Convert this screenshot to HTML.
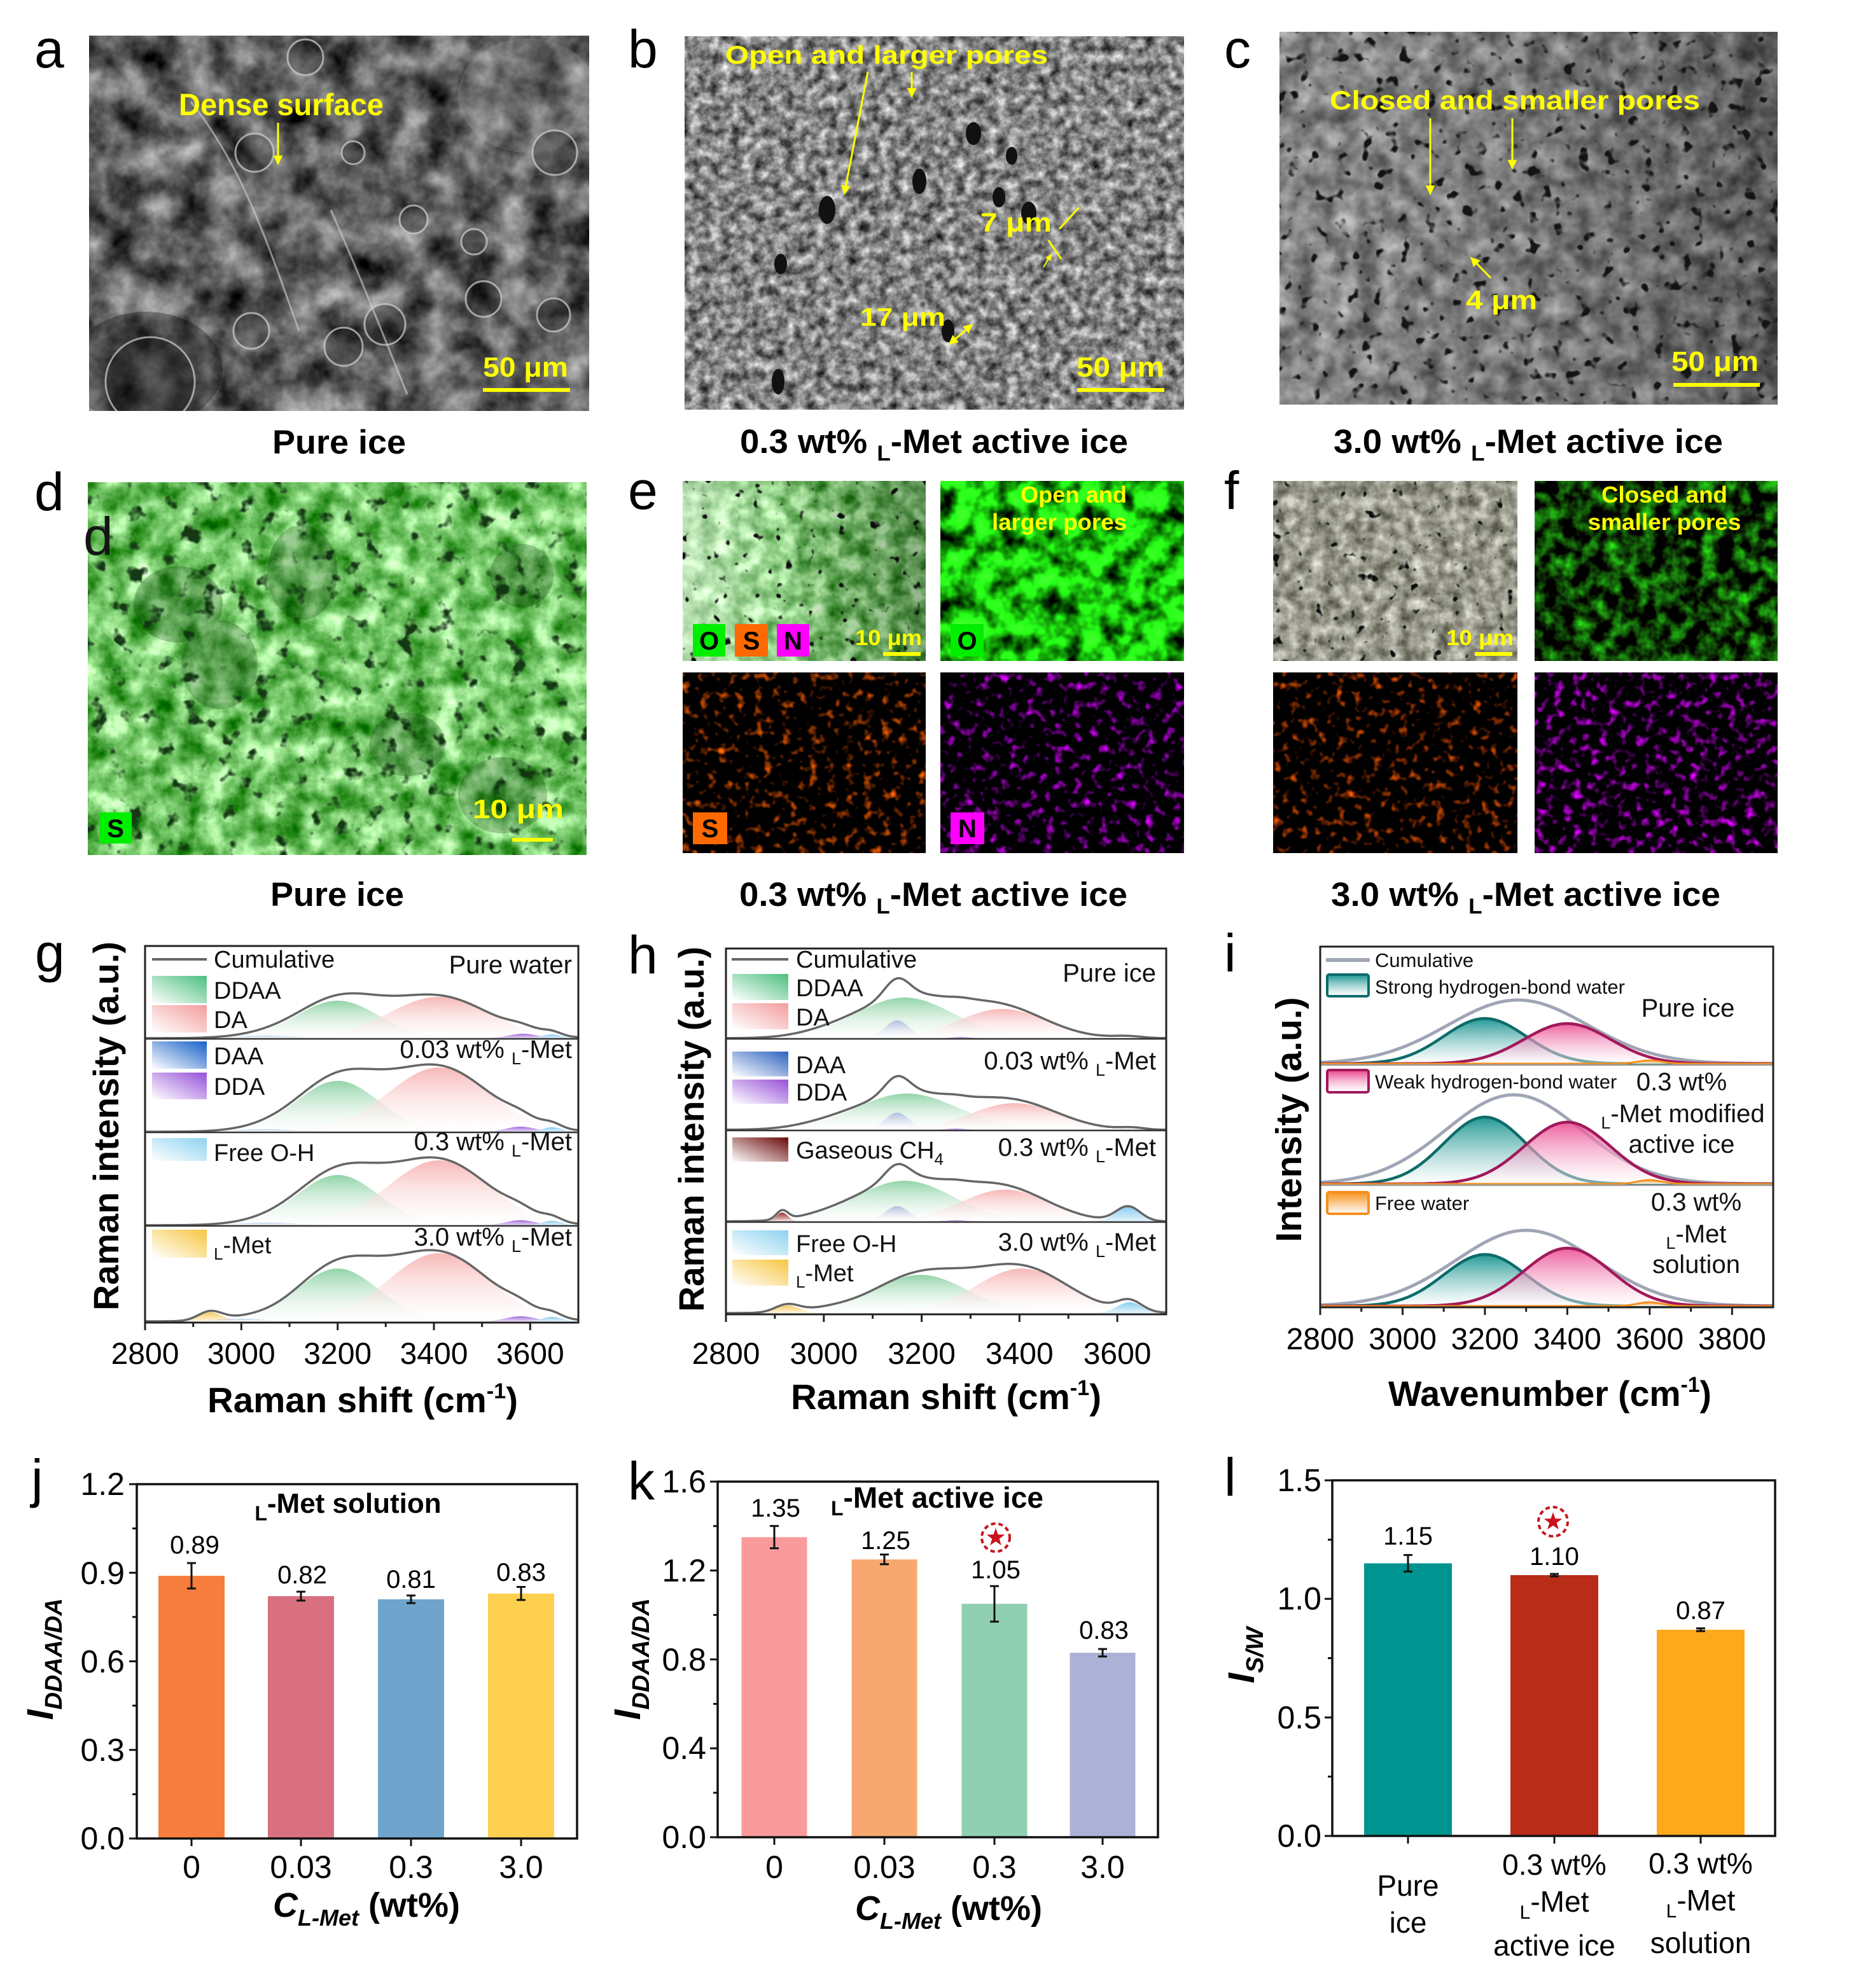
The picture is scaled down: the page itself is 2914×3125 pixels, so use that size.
<!DOCTYPE html>
<html><head><meta charset="utf-8">
<style>html,body{margin:0;padding:0;background:#fff;width:2914px;height:3125px;overflow:hidden}svg{display:block}</style>
</head>
<body>
<svg xmlns="http://www.w3.org/2000/svg" width="2914" height="3125" viewBox="0 0 2914 3125" font-family="'Liberation Sans', Arial, sans-serif">
<defs>
  <clipPath id="clipA"><rect x="140" y="56" width="786" height="590"/></clipPath>
  <clipPath id="clipD"><rect x="138" y="758" width="784" height="586"/></clipPath>
  <filter id="fA" x="0" y="0" width="1" height="1" color-interpolation-filters="sRGB">
    <feTurbulence type="fractalNoise" baseFrequency="0.018" numOctaves="4" seed="5"/>
    <feColorMatrix type="matrix" values="1.0 0 0 0 -0.12  1.0 0 0 0 -0.12  1.0 0 0 0 -0.12  0 0 0 0 1"/>
  </filter>
  <filter id="fB" x="0" y="0" width="1" height="1" color-interpolation-filters="sRGB">
    <feTurbulence type="fractalNoise" baseFrequency="0.06" numOctaves="3" seed="8"/>
    <feColorMatrix type="matrix" values="1.1 0 0 0 -0.03  1.1 0 0 0 -0.03  1.1 0 0 0 -0.03  0 0 0 0 1"/>
  </filter>
  <filter id="fC" x="0" y="0" width="1" height="1" color-interpolation-filters="sRGB">
    <feTurbulence type="fractalNoise" baseFrequency="0.03" numOctaves="3" seed="11"/>
    <feColorMatrix type="matrix" values="0.7 0 0 0 0.12  0.7 0 0 0 0.12  0.7 0 0 0 0.12  0 0 0 0 1"/>
  </filter>
  <filter id="fSp1" x="0" y="0" width="1" height="1" color-interpolation-filters="sRGB">
    <feTurbulence type="fractalNoise" baseFrequency="0.05" numOctaves="2" seed="13"/>
    <feColorMatrix type="matrix" values="0 0 0 0 0.08  0 0 0 0 0.08  0 0 0 0 0.08  9 0 0 0 -5.7"/>
  </filter>
  <filter id="fSp2" x="0" y="0" width="1" height="1" color-interpolation-filters="sRGB">
    <feTurbulence type="fractalNoise" baseFrequency="0.06" numOctaves="2" seed="61"/>
    <feColorMatrix type="matrix" values="0 0 0 0 0.05  0 0 0 0 0.05  0 0 0 0 0.05  10 0 0 0 -6.9"/>
  </filter>
  <filter id="fD" x="0" y="0" width="1" height="1" color-interpolation-filters="sRGB">
    <feTurbulence type="fractalNoise" baseFrequency="0.025" numOctaves="4" seed="17"/>
    <feColorMatrix type="matrix" values="1.3 0 0 0 -0.2  1.0 0 0 0 0.27  1.3 0 0 0 -0.25  0 0 0 0 1"/>
  </filter>
  <filter id="fSpD" x="0" y="0" width="1" height="1" color-interpolation-filters="sRGB">
    <feTurbulence type="fractalNoise" baseFrequency="0.035" numOctaves="3" seed="19"/>
    <feColorMatrix type="matrix" values="0 0 0 0 0.08  0 0 0 0 0.22  0 0 0 0 0.08  7 0 0 0 -4.3"/>
  </filter>
  <filter id="fETL" x="0" y="0" width="1" height="1" color-interpolation-filters="sRGB">
    <feTurbulence type="fractalNoise" baseFrequency="0.04" numOctaves="3" seed="23"/>
    <feColorMatrix type="matrix" values="1.1 0 0 0 -0.05  0.9 0 0 0 0.35  1.1 0 0 0 -0.1  0 0 0 0 1"/>
  </filter>
  <filter id="fETR" x="0" y="0" width="1" height="1" color-interpolation-filters="sRGB">
    <feTurbulence type="fractalNoise" baseFrequency="0.03" numOctaves="3" seed="29"/>
    <feColorMatrix type="matrix" values="0.5 0 0 0 -0.15  2.6 0 0 0 -0.55  0.4 0 0 0 -0.15  0 0 0 0 1"/>
  </filter>
  <filter id="fEBL" x="0" y="0" width="1" height="1" color-interpolation-filters="sRGB">
    <feTurbulence type="fractalNoise" baseFrequency="0.07" numOctaves="2" seed="31"/>
    <feColorMatrix type="matrix" values="3.0 0 0 0 -1.62  1.2 0 0 0 -0.66  0 0 0 0 0  0 0 0 0 1"/>
  </filter>
  <filter id="fEBR" x="0" y="0" width="1" height="1" color-interpolation-filters="sRGB">
    <feTurbulence type="fractalNoise" baseFrequency="0.07" numOctaves="2" seed="37"/>
    <feColorMatrix type="matrix" values="2.6 0 0 0 -1.4  0 0 0 0 0  3.0 0 0 0 -1.6  0 0 0 0 1"/>
  </filter>
  <filter id="fFTL" x="0" y="0" width="1" height="1" color-interpolation-filters="sRGB">
    <feTurbulence type="fractalNoise" baseFrequency="0.05" numOctaves="3" seed="41"/>
    <feColorMatrix type="matrix" values="0.8 0 0 0 0.2  0.8 0 0 0 0.2  0.8 0 0 0 0.15  0 0 0 0 1"/>
  </filter>
  <filter id="fFTR" x="0" y="0" width="1" height="1" color-interpolation-filters="sRGB">
    <feTurbulence type="fractalNoise" baseFrequency="0.04" numOctaves="3" seed="43"/>
    <feColorMatrix type="matrix" values="0.3 0 0 0 -0.1  1.8 0 0 0 -0.68  0.2 0 0 0 -0.08  0 0 0 0 1"/>
  </filter>
  <filter id="fFBL" x="0" y="0" width="1" height="1" color-interpolation-filters="sRGB">
    <feTurbulence type="fractalNoise" baseFrequency="0.07" numOctaves="2" seed="47"/>
    <feColorMatrix type="matrix" values="2.9 0 0 0 -1.6  1.1 0 0 0 -0.62  0 0 0 0 0  0 0 0 0 1"/>
  </filter>
  <filter id="fFBR" x="0" y="0" width="1" height="1" color-interpolation-filters="sRGB">
    <feTurbulence type="fractalNoise" baseFrequency="0.07" numOctaves="2" seed="53"/>
    <feColorMatrix type="matrix" values="2.7 0 0 0 -1.4  0 0 0 0 0  3.1 0 0 0 -1.6  0 0 0 0 1"/>
  </filter>

  <linearGradient id="oETL" x1="0" y1="0" x2="1" y2="0">
    <stop offset="0" stop-color="#fff" stop-opacity="0.5"/>
    <stop offset="0.4" stop-color="#fff" stop-opacity="0.2"/>
    <stop offset="0.6" stop-color="#000" stop-opacity="0.15"/>
    <stop offset="1" stop-color="#000" stop-opacity="0.3"/>
  </linearGradient>
  <linearGradient id="oC" x1="0" y1="0" x2="1" y2="0">
    <stop offset="0" stop-color="#fff" stop-opacity="0.1"/>
    <stop offset="1" stop-color="#000" stop-opacity="0.25"/>
  </linearGradient>

  <linearGradient id="fGr" x1="0" y1="0" x2="0" y2="1"><stop offset="0" stop-color="#86cf9f"/><stop offset="1" stop-color="#ffffff" stop-opacity="0.3"/></linearGradient>
  <linearGradient id="fRd" x1="0" y1="0" x2="0" y2="1"><stop offset="0" stop-color="#f6b0b0"/><stop offset="1" stop-color="#ffffff" stop-opacity="0.3"/></linearGradient>
  <linearGradient id="fBl" x1="0" y1="0" x2="0" y2="1"><stop offset="0" stop-color="#7fa3dc"/><stop offset="1" stop-color="#ffffff" stop-opacity="0.3"/></linearGradient>
  <linearGradient id="fBl2" x1="0" y1="0" x2="0" y2="1"><stop offset="0" stop-color="#a9b7e0"/><stop offset="1" stop-color="#ffffff" stop-opacity="0.3"/></linearGradient>
  <linearGradient id="fPu" x1="0" y1="0" x2="0" y2="1"><stop offset="0" stop-color="#9a5cd8"/><stop offset="1" stop-color="#e6d6f6"/></linearGradient>
  <linearGradient id="fCy" x1="0" y1="0" x2="0" y2="1"><stop offset="0" stop-color="#7cc8ee"/><stop offset="1" stop-color="#e2f3fb"/></linearGradient>
  <linearGradient id="fYe" x1="0" y1="0" x2="0" y2="1"><stop offset="0" stop-color="#f5c45a"/><stop offset="1" stop-color="#fff4d8"/></linearGradient>
  <linearGradient id="fMr" x1="0" y1="0" x2="0" y2="1"><stop offset="0" stop-color="#8a1f1f"/><stop offset="1" stop-color="#f0d6d6"/></linearGradient>
  <linearGradient id="iT" x1="0" y1="0" x2="0" y2="1"><stop offset="0" stop-color="#16938f"/><stop offset="1" stop-color="#ffffff" stop-opacity="0.6"/></linearGradient>
  <linearGradient id="iP" x1="0" y1="0" x2="0" y2="1"><stop offset="0" stop-color="#e9428a"/><stop offset="1" stop-color="#ffffff" stop-opacity="0.5"/></linearGradient>
  <linearGradient id="iO" x1="0" y1="0" x2="0" y2="1"><stop offset="0" stop-color="#f7941d"/><stop offset="1" stop-color="#ffffff"/></linearGradient>

  <linearGradient id="swG" x1="0" y1="1" x2="1" y2="0"><stop offset="0" stop-color="#fff"/><stop offset="1" stop-color="#4cbf7f"/></linearGradient>
  <linearGradient id="swR" x1="0" y1="1" x2="1" y2="0"><stop offset="0" stop-color="#fff"/><stop offset="1" stop-color="#f49c9c"/></linearGradient>
  <linearGradient id="swB" x1="0" y1="1" x2="1" y2="0"><stop offset="0" stop-color="#fff"/><stop offset="1" stop-color="#1560c8"/></linearGradient>
  <linearGradient id="swB2" x1="0" y1="1" x2="1" y2="0"><stop offset="0" stop-color="#fff"/><stop offset="1" stop-color="#2d62c0"/></linearGradient>
  <linearGradient id="swP" x1="0" y1="1" x2="1" y2="0"><stop offset="0" stop-color="#fff"/><stop offset="1" stop-color="#9650d8"/></linearGradient>
  <linearGradient id="swF" x1="0" y1="1" x2="1" y2="0"><stop offset="0" stop-color="#fff"/><stop offset="1" stop-color="#8dd2f0"/></linearGradient>
  <linearGradient id="swY" x1="0" y1="1" x2="1" y2="0"><stop offset="0" stop-color="#fff"/><stop offset="1" stop-color="#f7c640"/></linearGradient>
  <linearGradient id="swM" x1="0" y1="1" x2="1" y2="0"><stop offset="0" stop-color="#fff"/><stop offset="1" stop-color="#6a0808"/></linearGradient>

  <marker id="ah" viewBox="0 0 10 10" refX="9" refY="5" markerWidth="5" markerHeight="5" orient="auto-start-reverse">
    <path d="M0,0 L10,5 L0,10 z" fill="#ffff00"/>
  </marker>
</defs>

<rect width="2914" height="3125" fill="#fff"/>

<g font-family="'Liberation Sans', Arial, sans-serif" font-size="84" fill="#000">
  <text x="54" y="106">a</text>
  <text x="987" y="106">b</text>
  <text x="1924" y="106">c</text>
  <text x="54" y="802">d</text>
  <text x="987" y="800">e</text>
  <text x="1924" y="800">f</text>
  <text x="55" y="1527">g</text>
  <text x="987" y="1530">h</text>
  <text x="1924" y="1527">i</text>
  <text x="49" y="2353">j</text>
  <text x="987" y="2357">k</text>
  <text x="1924" y="2351">l</text>
</g>

<!-- panel a -->
<g clip-path="url(#clipA)">
<rect x="140" y="56" width="786" height="590" filter="url(#fA)"/>
<ellipse cx="830" cy="150" rx="110" ry="90" fill="#bbb" opacity="0.2"/>
<ellipse cx="230" cy="580" rx="120" ry="90" fill="#000" opacity="0.3"/>
<g fill="#1d1d1d" fill-opacity="0.35" stroke="#d0d0d0" stroke-opacity="0.7" stroke-width="3">
  <circle cx="236" cy="600" r="70"/>
  <circle cx="395" cy="520" r="28"/>
  <circle cx="540" cy="545" r="30"/>
  <circle cx="605" cy="510" r="32"/>
  <circle cx="650" cy="345" r="22"/>
  <circle cx="760" cy="470" r="28"/>
  <circle cx="870" cy="495" r="26"/>
  <circle cx="400" cy="240" r="30"/>
  <circle cx="555" cy="240" r="18"/>
  <circle cx="872" cy="240" r="35"/>
  <circle cx="480" cy="90" r="28"/>
  <circle cx="745" cy="380" r="20"/>
</g>
<path d="M300,160 C380,260 420,380 470,520 M520,330 C560,420 600,520 640,620" stroke="#cfcfcf" stroke-width="3" fill="none" opacity="0.6"/>
</g>
<text x="281" y="181" font-size="48" font-weight="bold" fill="#ffff00" textLength="322" lengthAdjust="spacingAndGlyphs">Dense surface</text>
<line x1="437" y1="193" x2="437" y2="258" stroke="#ffff00" stroke-width="3" marker-end="url(#ah)"/>
<text x="759" y="592" font-size="44" font-weight="bold" fill="#ffff00" textLength="134" lengthAdjust="spacingAndGlyphs">50 μm</text>
<rect x="759" y="610" width="137" height="6" fill="#ffff00"/>

<!-- panel b -->
<rect x="1076" y="57" width="785" height="587" filter="url(#fB)"/>
<g fill="#111">
  <ellipse cx="1300" cy="330" rx="13" ry="22"/>
  <ellipse cx="1445" cy="285" rx="11" ry="20"/>
  <ellipse cx="1570" cy="310" rx="10" ry="16"/>
  <ellipse cx="1227" cy="415" rx="10" ry="16"/>
  <ellipse cx="1530" cy="210" rx="12" ry="18"/>
  <ellipse cx="1617" cy="335" rx="12" ry="18"/>
  <ellipse cx="1490" cy="520" rx="10" ry="18"/>
  <ellipse cx="1223" cy="600" rx="10" ry="20"/>
  <ellipse cx="1590" cy="245" rx="9" ry="14"/>
</g>
<text x="1140" y="100" font-size="40" font-weight="bold" fill="#ffff00" textLength="507" lengthAdjust="spacingAndGlyphs">Open and larger pores</text>
<line x1="1364" y1="113" x2="1327" y2="305" stroke="#ffff00" stroke-width="3" marker-end="url(#ah)"/>
<line x1="1433" y1="113" x2="1433" y2="152" stroke="#ffff00" stroke-width="3" marker-end="url(#ah)"/>
<text x="1541" y="364" font-size="42" font-weight="bold" fill="#ffff00" textLength="112" lengthAdjust="spacingAndGlyphs">7 μm</text>
<line x1="1665" y1="360" x2="1696" y2="326" stroke="#ffff00" stroke-width="3"/>
<line x1="1648" y1="378" x2="1668" y2="407" stroke="#ffff00" stroke-width="3"/>
<line x1="1640" y1="420" x2="1652" y2="400" stroke="#ffff00" stroke-width="2" marker-end="url(#ah)"/>
<text x="1352" y="512" font-size="40" font-weight="bold" fill="#ffff00" textLength="134" lengthAdjust="spacingAndGlyphs">17 μm</text>
<line x1="1492" y1="541" x2="1528" y2="510" stroke="#ffff00" stroke-width="3" marker-start="url(#ah)" marker-end="url(#ah)"/>
<text x="1692" y="592" font-size="44" font-weight="bold" fill="#ffff00" textLength="138" lengthAdjust="spacingAndGlyphs">50 μm</text>
<rect x="1693" y="610" width="137" height="6" fill="#ffff00"/>

<!-- panel c -->
<rect x="2011" y="50" width="783" height="586" filter="url(#fC)"/>
<rect x="2011" y="50" width="783" height="586" fill="url(#oC)"/>
<rect x="2011" y="50" width="783" height="586" filter="url(#fSp1)"/>
<text x="2090" y="172" font-size="42" font-weight="bold" fill="#ffff00" textLength="582" lengthAdjust="spacingAndGlyphs">Closed and smaller pores</text>
<line x1="2248" y1="186" x2="2248" y2="305" stroke="#ffff00" stroke-width="3" marker-end="url(#ah)"/>
<line x1="2377" y1="186" x2="2377" y2="265" stroke="#ffff00" stroke-width="3" marker-end="url(#ah)"/>
<text x="2304" y="486" font-size="42" font-weight="bold" fill="#ffff00" textLength="112" lengthAdjust="spacingAndGlyphs">4 μm</text>
<line x1="2343" y1="437" x2="2312" y2="405" stroke="#ffff00" stroke-width="3" marker-end="url(#ah)"/>
<text x="2627" y="583" font-size="44" font-weight="bold" fill="#ffff00" textLength="137" lengthAdjust="spacingAndGlyphs">50 μm</text>
<rect x="2630" y="602" width="136" height="6" fill="#ffff00"/>

<g font-size="53" font-weight="bold" text-anchor="middle" fill="#000">
  <text x="533" y="713" textLength="210" lengthAdjust="spacingAndGlyphs">Pure ice</text>
  <text x="1468" y="712" textLength="610" lengthAdjust="spacingAndGlyphs">0.3 wt% <tspan font-size="34" dy="12">L</tspan><tspan dy="-12">-Met active ice</tspan></text>
  <text x="2402" y="712" textLength="612" lengthAdjust="spacingAndGlyphs">3.0 wt% <tspan font-size="34" dy="12">L</tspan><tspan dy="-12">-Met active ice</tspan></text>
</g>

<!-- ============ Row 2 ============ -->
<g clip-path="url(#clipD)">
<rect x="138" y="758" width="784" height="586" filter="url(#fD)"/>
<rect x="138" y="758" width="784" height="586" filter="url(#fSpD)"/>
<g fill="#0a300a" opacity="0.25">
  <ellipse cx="280" cy="950" rx="70" ry="60"/>
  <ellipse cx="345" cy="1045" rx="60" ry="70"/>
  <ellipse cx="475" cy="900" rx="55" ry="75"/>
  <ellipse cx="820" cy="905" rx="50" ry="50"/>
  <ellipse cx="640" cy="1170" rx="60" ry="50"/>
  <ellipse cx="790" cy="1250" rx="70" ry="60"/>
</g>
</g>
<text x="131" y="872" font-size="84" fill="#151515">d</text>
<rect x="156" y="1277" width="51" height="49" fill="#00ee00"/>
<text x="181.5" y="1316" font-size="40" font-weight="bold" text-anchor="middle" fill="#000">S</text>
<text x="743" y="1286" font-size="42" font-weight="bold" fill="#ffff00" textLength="143" lengthAdjust="spacingAndGlyphs">10 μm</text>
<rect x="805" y="1317" width="64" height="6" fill="#ffff00"/>

<rect x="1073" y="756" width="382" height="283" filter="url(#fETL)"/>
<rect x="1073" y="756" width="382" height="283" fill="url(#oETL)"/>
<rect x="1073" y="756" width="382" height="283" filter="url(#fSp2)"/>
<rect x="1089" y="981" width="51" height="51" fill="#00ee00"/>
<rect x="1155" y="981" width="52" height="51" fill="#ff6a00"/>
<rect x="1221" y="981" width="51" height="51" fill="#ff00ff"/>
<g font-size="40" font-weight="bold" text-anchor="middle" fill="#000">
  <text x="1114.5" y="1021">O</text>
  <text x="1181" y="1021">S</text>
  <text x="1246.5" y="1021">N</text>
</g>
<text x="1344" y="1014" font-size="34" font-weight="bold" fill="#ffff00" textLength="105" lengthAdjust="spacingAndGlyphs">10 μm</text>
<rect x="1388" y="1025" width="59" height="6" fill="#ffff00"/>

<rect x="1478" y="756" width="383" height="283" filter="url(#fETR)"/>
<text x="1771" y="790" font-size="36" font-weight="bold" fill="#ffff00" text-anchor="end" textLength="167" lengthAdjust="spacingAndGlyphs">Open and</text>
<text x="1771" y="833" font-size="36" font-weight="bold" fill="#ffff00" text-anchor="end" textLength="212" lengthAdjust="spacingAndGlyphs">larger pores</text>
<rect x="1494" y="981" width="52" height="51" fill="#00ee00"/>
<text x="1520" y="1021" font-size="40" font-weight="bold" text-anchor="middle" fill="#000">O</text>

<rect x="1073" y="1057" width="382" height="284" filter="url(#fEBL)"/>
<rect x="1089" y="1277" width="54" height="50" fill="#ff6a00"/>
<text x="1116" y="1316" font-size="40" font-weight="bold" text-anchor="middle" fill="#000">S</text>

<rect x="1478" y="1057" width="383" height="284" filter="url(#fEBR)"/>
<rect x="1494" y="1277" width="53" height="50" fill="#ff00ff"/>
<text x="1520.5" y="1316" font-size="40" font-weight="bold" text-anchor="middle" fill="#000">N</text>

<rect x="2001" y="756" width="384" height="283" filter="url(#fFTL)"/>
<rect x="2001" y="756" width="384" height="283" filter="url(#fSp2)"/>
<text x="2273" y="1014" font-size="34" font-weight="bold" fill="#ffff00" textLength="106" lengthAdjust="spacingAndGlyphs">10 μm</text>
<rect x="2318" y="1025" width="59" height="6" fill="#ffff00"/>

<rect x="2412" y="756" width="382" height="283" filter="url(#fFTR)"/>
<text x="2616" y="790" font-size="36" font-weight="bold" fill="#ffff00" text-anchor="middle" textLength="198" lengthAdjust="spacingAndGlyphs">Closed and</text>
<text x="2616" y="833" font-size="36" font-weight="bold" fill="#ffff00" text-anchor="middle" textLength="241" lengthAdjust="spacingAndGlyphs">smaller pores</text>

<rect x="2001" y="1057" width="384" height="284" filter="url(#fFBL)"/>
<rect x="2412" y="1057" width="382" height="284" filter="url(#fFBR)"/>

<g font-size="53" font-weight="bold" text-anchor="middle" fill="#000">
  <text x="530" y="1424" textLength="210" lengthAdjust="spacingAndGlyphs">Pure ice</text>
  <text x="1467" y="1424" textLength="610" lengthAdjust="spacingAndGlyphs">0.3 wt% <tspan font-size="34" dy="12">L</tspan><tspan dy="-12">-Met active ice</tspan></text>
  <text x="2398" y="1424" textLength="612" lengthAdjust="spacingAndGlyphs">3.0 wt% <tspan font-size="34" dy="12">L</tspan><tspan dy="-12">-Met active ice</tspan></text>
</g>

<!-- ============ Row 3: spectra ============ -->
<g id="specG"></g>
<g id="specH"></g>
<g id="specI"></g>

<g fill="none" stroke="#222">
  <rect x="228" y="1487" width="681" height="592" stroke-width="3"/>
  <path d="M228,1633H909M228,1780H909M228,1927H909" stroke="#333" stroke-width="2.5"/>
  <path d="M228,2079v12M303.7,2079v7M379.3,2079v12M455,2079v7M530.7,2079v12M606.3,2079v7M682,2079v12M757.7,2079v7M833.3,2079v12" stroke-width="3"/>
</g>
<g font-size="48" text-anchor="middle" fill="#000">
  <text x="228" y="2144">2800</text><text x="379.3" y="2144">3000</text><text x="530.7" y="2144">3200</text><text x="682" y="2144">3400</text><text x="833.3" y="2144">3600</text>
</g>
<text x="570" y="2220" font-size="56" font-weight="bold" text-anchor="middle" textLength="488" lengthAdjust="spacingAndGlyphs">Raman shift (cm<tspan font-size="34" dy="-22">-1</tspan><tspan dy="22">)</tspan></text>
<text transform="translate(186,1770) rotate(-90)" font-size="56" font-weight="bold" text-anchor="middle" textLength="580" lengthAdjust="spacingAndGlyphs">Raman intensity (a.u.)</text>
<line x1="239" y1="1508" x2="325" y2="1508" stroke="#666" stroke-width="4"/>
<rect x="239" y="1534" width="86" height="43" fill="url(#swG)"/>
<rect x="239" y="1580" width="86" height="43" fill="url(#swR)"/>
<rect x="239" y="1637" width="86" height="43" fill="url(#swB)"/>
<rect x="239" y="1686" width="86" height="42" fill="url(#swP)"/>
<rect x="239" y="1789" width="86" height="36" fill="url(#swF)"/>
<rect x="239" y="1933" width="86" height="44" fill="url(#swY)"/>
<g font-size="38" fill="#111">
  <text x="336" y="1521">Cumulative</text>
  <text x="336" y="1570">DDAA</text>
  <text x="336" y="1616">DA</text>
  <text x="336" y="1673">DAA</text>
  <text x="336" y="1721">DDA</text>
  <text x="336" y="1825">Free O-H</text>
  <text x="336" y="1970"><tspan font-size="26" dy="10">L</tspan><tspan dy="-10">-Met</tspan></text>
</g>
<g font-size="40" fill="#111" text-anchor="end">
  <text x="899" y="1530">Pure water</text>
  <text x="899" y="1663">0.03 wt% <tspan font-size="27" dy="10">L</tspan><tspan dy="-10">-Met</tspan></text>
  <text x="899" y="1808">0.3 wt% <tspan font-size="27" dy="10">L</tspan><tspan dy="-10">-Met</tspan></text>
  <text x="899" y="1958">3.0 wt% <tspan font-size="27" dy="10">L</tspan><tspan dy="-10">-Met</tspan></text>
</g>

<g fill="none" stroke="#222">
  <rect x="1141" y="1491" width="692" height="575" stroke-width="3"/>
  <path d="M1141,1633H1833M1141,1777H1833M1141,1921H1833" stroke="#333" stroke-width="2.5"/>
  <path d="M1141,2066v12M1217.9,2066v7M1294.8,2066v12M1371.7,2066v7M1448.6,2066v12M1525.4,2066v7M1602.3,2066v12M1679.2,2066v7M1756.1,2066v12" stroke-width="3"/>
</g>
<g font-size="48" text-anchor="middle" fill="#000">
  <text x="1141" y="2144">2800</text><text x="1294.8" y="2144">3000</text><text x="1448.6" y="2144">3200</text><text x="1602.3" y="2144">3400</text><text x="1756.1" y="2144">3600</text>
</g>
<text x="1487" y="2215" font-size="56" font-weight="bold" text-anchor="middle" textLength="488" lengthAdjust="spacingAndGlyphs">Raman shift (cm<tspan font-size="34" dy="-22">-1</tspan><tspan dy="22">)</tspan></text>
<text transform="translate(1106,1775) rotate(-90)" font-size="56" font-weight="bold" text-anchor="middle" textLength="574" lengthAdjust="spacingAndGlyphs">Raman intensity (a.u.)</text>
<line x1="1150" y1="1508" x2="1239" y2="1508" stroke="#666" stroke-width="4"/>
<rect x="1151" y="1531" width="88" height="41" fill="url(#swG)"/>
<rect x="1151" y="1577" width="88" height="41" fill="url(#swR)"/>
<rect x="1151" y="1653" width="88" height="39" fill="url(#swB2)"/>
<rect x="1151" y="1697" width="88" height="38" fill="url(#swP)"/>
<rect x="1151" y="1788" width="88" height="38" fill="url(#swM)"/>
<rect x="1151" y="1934" width="88" height="39" fill="url(#swF)"/>
<rect x="1151" y="1980" width="88" height="41" fill="url(#swY)"/>
<g font-size="38" fill="#111">
  <text x="1251" y="1521">Cumulative</text>
  <text x="1251" y="1566">DDAA</text>
  <text x="1251" y="1612">DA</text>
  <text x="1251" y="1687">DAA</text>
  <text x="1251" y="1730">DDA</text>
  <text x="1251" y="1821">Gaseous CH<tspan font-size="26" dy="10">4</tspan></text>
  <text x="1251" y="1968">Free O-H</text>
  <text x="1251" y="2014"><tspan font-size="26" dy="10">L</tspan><tspan dy="-10">-Met</tspan></text>
</g>
<g font-size="40" fill="#111" text-anchor="end">
  <text x="1817" y="1543">Pure ice</text>
  <text x="1817" y="1681">0.03 wt% <tspan font-size="27" dy="10">L</tspan><tspan dy="-10">-Met</tspan></text>
  <text x="1817" y="1817">0.3 wt% <tspan font-size="27" dy="10">L</tspan><tspan dy="-10">-Met</tspan></text>
  <text x="1817" y="1966">3.0 wt% <tspan font-size="27" dy="10">L</tspan><tspan dy="-10">-Met</tspan></text>
</g>

<g fill="none" stroke="#222">
  <path d="M2075,1674H2787M2075,1863H2787" stroke="#9a9a9a" stroke-width="2.5"/>
  <rect x="2075" y="1488" width="712" height="567" stroke-width="3"/>
  <path d="M2075,2055v12M2139.7,2055v7M2204.5,2055v12M2269.2,2055v7M2333.9,2055v12M2398.7,2055v7M2463.4,2055v12M2528.1,2055v7M2592.9,2055v12M2657.6,2055v7M2722.4,2055v12" stroke-width="3"/>
</g>
<g font-size="48" text-anchor="middle" fill="#000">
  <text x="2075" y="2121">2800</text><text x="2204.5" y="2121">3000</text><text x="2333.9" y="2121">3200</text><text x="2463.4" y="2121">3400</text><text x="2592.9" y="2121">3600</text><text x="2722.4" y="2121">3800</text>
</g>
<text x="2436" y="2210" font-size="56" font-weight="bold" text-anchor="middle" textLength="508" lengthAdjust="spacingAndGlyphs">Wavenumber (cm<tspan font-size="34" dy="-22">-1</tspan><tspan dy="22">)</tspan></text>
<text transform="translate(2045,1760) rotate(-90)" font-size="57" font-weight="bold" text-anchor="middle" textLength="385" lengthAdjust="spacingAndGlyphs">Intensity (a.u.)</text>
<line x1="2084" y1="1509" x2="2153" y2="1509" stroke="#a0a5b5" stroke-width="6"/>
<rect x="2086" y="1532" width="65" height="34" fill="url(#iT)" stroke="#0d6c6a" stroke-width="4" rx="3"/>
<rect x="2086" y="1682" width="65" height="35" fill="url(#iP)" stroke="#a0195b" stroke-width="4" rx="3"/>
<rect x="2086" y="1874" width="65" height="34" fill="url(#iO)" stroke="#f5901e" stroke-width="4" rx="3"/>
<g font-size="31" fill="#111">
  <text x="2161" y="1520">Cumulative</text>
  <text x="2161" y="1562">Strong hydrogen-bond water</text>
  <text x="2161" y="1711">Weak hydrogen-bond water</text>
  <text x="2161" y="1902">Free water</text>
</g>
<g font-size="40" fill="#111" text-anchor="middle">
  <text x="2653" y="1598">Pure ice</text>
  <text x="2643" y="1714">0.3 wt%</text>
  <text x="2645" y="1764"><tspan font-size="27" dy="10">L</tspan><tspan dy="-10">-Met modified</tspan></text>
  <text x="2643" y="1812">active ice</text>
  <text x="2666" y="1903">0.3 wt%</text>
  <text x="2666" y="1953"><tspan font-size="27" dy="10">L</tspan><tspan dy="-10">-Met</tspan></text>
  <text x="2666" y="2001">solution</text>
</g>

<!-- ============ Row 4 ============ -->
<g>
  <rect x="249" y="2477" width="104" height="413" fill="#f77d3f"/>
  <rect x="421" y="2509" width="104" height="381" fill="#d97080"/>
  <rect x="594" y="2514" width="104" height="376" fill="#6fa5cd"/>
  <rect x="767" y="2505" width="104" height="385" fill="#fdd04f"/>
  <g stroke="#111" stroke-width="3" fill="none">
    <path d="M301,2457V2497M294,2457H308M294,2497H308"/>
    <path d="M473,2502V2516M466,2502H480M466,2516H480"/>
    <path d="M646,2508V2520M639,2508H653M639,2520H653"/>
    <path d="M819,2494.5V2515M812,2494.5H826M812,2515H826"/>
  </g>
  <rect x="215" y="2333" width="692" height="557" fill="none" stroke="#111" stroke-width="3.5"/>
  <path d="M215,2890h-12M215,2820.4h-7M215,2750.7h-12M215,2681.1h-7M215,2611.5h-12M215,2541.8h-7M215,2472.2h-12M215,2402.6h-7M215,2333h-12M301,2890v12M473,2890v12M646,2890v12M819,2890v12" stroke="#111" stroke-width="3"/>
  <g font-size="50" text-anchor="end" fill="#000">
    <text x="196" y="2907">0.0</text><text x="196" y="2768">0.3</text><text x="196" y="2629">0.6</text><text x="196" y="2490">0.9</text><text x="196" y="2350">1.2</text>
  </g>
  <g font-size="50" text-anchor="middle" fill="#000">
    <text x="301" y="2952">0</text><text x="473" y="2952">0.03</text><text x="646" y="2952">0.3</text><text x="819" y="2952">3.0</text>
  </g>
  <g font-size="40" text-anchor="middle" fill="#000">
    <text x="306" y="2442">0.89</text><text x="475" y="2489">0.82</text><text x="646" y="2496">0.81</text><text x="819" y="2485">0.83</text>
  </g>
  <text x="547" y="2378" font-size="44" font-weight="bold" text-anchor="middle"><tspan font-size="32" dy="12">L</tspan><tspan dy="-12">-Met solution</tspan></text>
  <text x="576" y="3013" font-size="54" font-weight="bold" text-anchor="middle"><tspan font-style="italic">C</tspan><tspan font-size="36" font-style="italic" dy="14">L-Met</tspan><tspan dy="-14"> (wt%)</tspan></text>
  <text transform="translate(83,2608) rotate(-90)" font-size="58" font-weight="bold" font-style="italic" text-anchor="middle">I<tspan font-size="38" dy="14">DDAA/DA</tspan></text>
</g>

<g>
  <rect x="1165.5" y="2416.3" width="103" height="471.7" fill="#f99b9b"/>
  <rect x="1338.5" y="2451.3" width="103" height="436.7" fill="#f7a870"/>
  <rect x="1511.5" y="2521.1" width="103" height="366.9" fill="#90cfb2"/>
  <rect x="1681.5" y="2598" width="103" height="290" fill="#abb2d6"/>
  <g stroke="#111" stroke-width="3" fill="none">
    <path d="M1217,2398.8V2433.8M1210,2398.8H1224M1210,2433.8H1224"/>
    <path d="M1390,2443.6V2458.9M1383,2443.6H1397M1383,2458.9H1397"/>
    <path d="M1563,2493.2V2549.1M1556,2493.2H1570M1556,2549.1H1570"/>
    <path d="M1733,2592.1V2603.9M1726,2592.1H1740M1726,2603.9H1740"/>
  </g>
  <rect x="1128" y="2329" width="692" height="559" fill="none" stroke="#111" stroke-width="3.5"/>
  <path d="M1128,2888h-12M1128,2818.1h-7M1128,2748.3h-12M1128,2678.4h-7M1128,2608.5h-12M1128,2538.6h-7M1128,2468.8h-12M1128,2398.9h-7M1128,2329h-12M1217,2888v12M1390,2888v12M1563,2888v12M1733,2888v12" stroke="#111" stroke-width="3"/>
  <g font-size="50" text-anchor="end" fill="#000">
    <text x="1110" y="2905">0.0</text><text x="1110" y="2765">0.4</text><text x="1110" y="2626">0.8</text><text x="1110" y="2486">1.2</text><text x="1110" y="2346">1.6</text>
  </g>
  <g font-size="50" text-anchor="middle" fill="#000">
    <text x="1217" y="2952">0</text><text x="1390" y="2952">0.03</text><text x="1563" y="2952">0.3</text><text x="1733" y="2952">3.0</text>
  </g>
  <g font-size="40" text-anchor="middle" fill="#000">
    <text x="1219" y="2384">1.35</text><text x="1392" y="2435">1.25</text><text x="1565" y="2481">1.05</text><text x="1735" y="2576">0.83</text>
  </g>
  <text x="1473" y="2370" font-size="46" font-weight="bold" text-anchor="middle"><tspan font-size="32" dy="12">L</tspan><tspan dy="-12">-Met active ice</tspan></text>
  <text x="1491" y="3018" font-size="54" font-weight="bold" text-anchor="middle"><tspan font-style="italic">C</tspan><tspan font-size="36" font-style="italic" dy="14">L-Met</tspan><tspan dy="-14"> (wt%)</tspan></text>
  <text transform="translate(1006,2608) rotate(-90)" font-size="58" font-weight="bold" font-style="italic" text-anchor="middle">I<tspan font-size="38" dy="14">DDAA/DA</tspan></text>
  <g transform="translate(1565,2417)">
    <circle r="22" fill="none" stroke="#c8141c" stroke-width="4" stroke-dasharray="7 5"/>
    <polygon points="0,-15 3.53,-4.85 14.27,-4.64 5.71,1.85 8.82,12.14 0,6 -8.82,12.14 -5.71,1.85 -14.27,-4.64 -3.53,-4.85" fill="#c8141c"/>
  </g>
</g>

<g>
  <rect x="2144" y="2457.4" width="138" height="428.6" fill="#009490"/>
  <rect x="2374" y="2476" width="138" height="410" fill="#b82c18"/>
  <rect x="2604" y="2561.8" width="138" height="324.2" fill="#fcaa1a"/>
  <g stroke="#111" stroke-width="3" fill="none">
    <path d="M2213,2444.4V2470.4M2206,2444.4H2220M2206,2470.4H2220"/>
    <path d="M2443,2474.1V2477.9M2436,2474.1H2450M2436,2477.9H2450"/>
    <path d="M2673,2559.6V2564M2666,2559.6H2680M2666,2564H2680"/>
  </g>
  <rect x="2094" y="2327" width="696" height="559" fill="none" stroke="#111" stroke-width="3.5"/>
  <path d="M2094,2886h-12M2094,2792.8h-7M2094,2699.7h-12M2094,2606.5h-7M2094,2513.3h-12M2094,2420.2h-7M2094,2327h-12M2213,2886v12M2443,2886v12M2673,2886v12" stroke="#111" stroke-width="3"/>
  <g font-size="50" text-anchor="end" fill="#000">
    <text x="2077" y="2903">0.0</text><text x="2077" y="2717">0.5</text><text x="2077" y="2530">1.0</text><text x="2077" y="2344">1.5</text>
  </g>
  <g font-size="40" text-anchor="middle" fill="#000">
    <text x="2213" y="2428">1.15</text><text x="2443" y="2460">1.10</text><text x="2673" y="2545">0.87</text>
  </g>
  <g font-size="46" text-anchor="middle" fill="#000">
    <text x="2213" y="2980">Pure</text>
    <text x="2213" y="3038">ice</text>
    <text x="2443" y="2947">0.3 wt%</text>
    <text x="2443" y="3005"><tspan font-size="30" dy="11">L</tspan><tspan dy="-11">-Met</tspan></text>
    <text x="2443" y="3074">active ice</text>
    <text x="2673" y="2945">0.3 wt%</text>
    <text x="2673" y="3003"><tspan font-size="30" dy="11">L</tspan><tspan dy="-11">-Met</tspan></text>
    <text x="2673" y="3070">solution</text>
  </g>
  <text transform="translate(1971,2602) rotate(-90)" font-size="58" font-weight="bold" font-style="italic" text-anchor="middle">I<tspan font-size="38" dy="14">S/W</tspan></text>
  <g transform="translate(2441,2392)">
    <circle r="23" fill="none" stroke="#c8141c" stroke-width="4" stroke-dasharray="7 5"/>
    <polygon points="0,-15 3.53,-4.85 14.27,-4.64 5.71,1.85 8.82,12.14 0,6 -8.82,12.14 -5.71,1.85 -14.27,-4.64 -3.53,-4.85" fill="#c8141c"/>
  </g>
</g>
</svg>

<script>
(function(){
  var NS='http://www.w3.org/2000/svg';
  function el(p,t,a){var e=document.createElementNS(NS,t);for(var k in a)e.setAttribute(k,a[k]);p.appendChild(e);return e;}
  function G(w,c,a,s){var z=(w-c)/s;return a*Math.exp(-0.5*z*z);}
  function run(id,x0,x1,w0,w1,subs,cumStroke,cumW,cumFirst){
    var L=document.getElementById(id);
    var N=320;
    function X(w){return x0+(w-w0)/(w1-w0)*(x1-x0);}
    function pts(f,base){var p=[];for(var i=0;i<=N;i++){var w=w0+(w1-w0)*i/N;p.push(X(w).toFixed(1)+','+(base-f(w)).toFixed(1));}return p;}
    subs.forEach(function(s){
      var base=s.base;
      var cumF=s.cum?function(w){return G(w,s.cum[0],s.cum[1],s.cum[2]);}:function(w){
        var t=0;s.comps.forEach(function(c){t+=G(w,c[0],c[1],c[2]);});
        (s.extra||[]).forEach(function(c){t+=G(w,c[0],c[1],c[2]);});return t;};
      var cumPath='M'+pts(cumF,base).join('L');
      if(cumFirst) el(L,'path',{d:cumPath,fill:'none',stroke:cumStroke,'stroke-width':cumW,'stroke-linejoin':'round'});
      s.comps.forEach(function(c){
        var p=pts(function(w){return G(w,c[0],c[1],c[2]);},base);
        el(L,'path',{d:'M'+X(w0).toFixed(1)+','+base+'L'+p.join('L')+'L'+X(w1).toFixed(1)+','+base+'Z',fill:c[3],'fill-opacity':(c[4]||0.9)});
        if(c[5]) el(L,'path',{d:'M'+p.join('L'),fill:'none',stroke:c[5],'stroke-width':(c[6]||4),'stroke-linejoin':'round'});
      });
      if(!cumFirst) el(L,'path',{d:cumPath,fill:'none',stroke:cumStroke,'stroke-width':cumW,'stroke-linejoin':'round'});
    });
  }
  var gr='url(#fGr)',rd='url(#fRd)',bl='url(#fBl)',bl2='url(#fBl2)',pu='url(#fPu)',cy='url(#fCy)',ye='url(#fYe)',mr='url(#fMr)';
  run('specG',228,909,2800,3700,[
    {base:1632,comps:[[3050,4,70,bl],[3200,59,85,gr],[3410,65,105,rd],[3585,7,30,pu],[3645,6,20,cy]]},
    {base:1779,comps:[[3050,4,70,bl],[3200,80,85,gr],[3410,101,105,rd],[3580,8,30,pu],[3645,7,20,cy]]},
    {base:1926,comps:[[3050,4,70,bl],[3200,79,85,gr],[3410,102,105,rd],[3580,8,30,pu],[3645,7,20,cy]]},
    {base:2077,comps:[[2935,14,25,ye],[3000,4,50,bl],[3200,83,85,gr],[3410,107,105,rd],[3580,8,30,pu],[3645,7,20,cy]]}
  ],'#666',3.5,false);
  run('specH',1141,1833,2800,3700,[
    {base:1632,comps:[[3165,64,100,gr],[3150,28,25,bl2],[3365,46,90,rd],[3280,2,20,pu]],extra:[[3000,4,60],[3620,3,30]]},
    {base:1776,comps:[[3170,57,105,gr],[3150,27,25,bl2],[3390,42,90,rd],[3270,2,20,pu]],extra:[[3000,4,60],[3630,3,25]]},
    {base:1920,comps:[[2915,14,12,mr],[3165,64,100,gr],[3150,24,25,bl2],[3370,50,90,rd],[3270,2,20,pu],[3622,23,25,cy]],extra:[[3000,3,60]]},
    {base:2064,comps:[[2925,12,25,ye],[3198,60,95,gr],[3405,70,95,rd],[3625,17,25,cy]],extra:[[3000,4,50]]}
  ],'#666',3.5,false);
  run('specI',2075,2787,2800,3900,[
    {base:1672,comps:[[3200,71,100,'url(#iT)',0.95,'#0d6c6a',4.5],[3400,63,105,'url(#iP)',0.85,'#a0195b',4.5],[3600,5,30,'url(#iO)',0.9,'#f5901e',3]],cum:[3280,100,170]},
    {base:1861,comps:[[3200,105,100,'url(#iT)',0.95,'#0d6c6a',4.5],[3400,97,105,'url(#iP)',0.85,'#a0195b',4.5],[3600,6,30,'url(#iO)',0.9,'#f5901e',3]],cum:[3270,140,165]},
    {base:2053,comps:[[3200,81,100,'url(#iT)',0.95,'#0d6c6a',4.5],[3400,91,105,'url(#iP)',0.85,'#a0195b',4.5],[3600,6,30,'url(#iO)',0.9,'#f5901e',3]],cum:[3300,119,170]}
  ],'#a0a5b5',5,true);
})();
</script>
</body></html>
